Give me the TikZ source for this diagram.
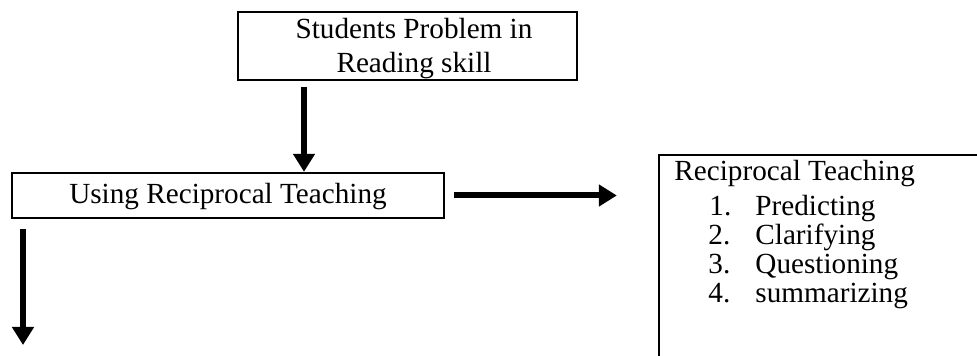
\documentclass[tikz,border=0pt]{standalone}
\usepackage{fontspec}
\setmainfont{Liberation Serif}
\usetikzlibrary{arrows.meta}
\tikzset{
  box/.style={draw=black, line width=1.15pt, inner sep=0pt, fill=none},
  txt/.style={inner sep=0pt, font=\fontsize{14.6}{17}\selectfont},
  bigarrow/.style={line width=3pt, -{Triangle[length=9pt,width=10.5pt]}},
}
\begin{document}
\begin{tikzpicture}[x=0.5pt,y=-0.5pt]
\useasboundingbox (0,0) rectangle (977,356);
\clip (0,0) rectangle (977,356);
\fill[white] (0,0) rectangle (977,356);
% boxes
\node[box, minimum width=169.5pt, minimum height=34pt] (top) at (407.5,46) {};
\node[box, minimum width=216pt, minimum height=22.5pt] (mid) at (228,195.5) {};
\node[box, minimum width=170.5pt, minimum height=112.5pt] (rb) at (829.5,267.5) {};
% texts
\node[txt, anchor=base] (t1) at (414,39) {Students Problem in};
\node[txt, anchor=base] (t2) at (414,73) {Reading skill};
\node[txt, anchor=base] (m1) at (228,204) {Using Reciprocal Teaching};
\node[txt, anchor=base west] (r0) at (674,181) {Reciprocal Teaching};
\node[txt, anchor=base west] (n1) at (709,216) {1.};
\node[txt, anchor=base west] (n2) at (708,245) {2.};
\node[txt, anchor=base west] (n3) at (708,274) {3.};
\node[txt, anchor=base west] (n4) at (708,303) {4.};
\node[txt, anchor=base west] (i1) at (755,216) {Predicting};
\node[txt, anchor=base west] (i2) at (755,245) {Clarifying};
\node[txt, anchor=base west] (i3) at (755,274) {Questioning};
\node[txt, anchor=base west] (i4) at (755,303) {summarizing};
% connectors
\coordinate (ax) at (304,0);
\coordinate (dx) at (23,0);
\coordinate (dend) at (23,345);
\draw[bigarrow, shorten <=3pt] (top.south -| ax) -- (mid.north -| ax);
\draw[bigarrow, shorten <=4.5pt, shorten >=20.5pt] (mid.east) -- (mid.east -| rb.west);
\draw[bigarrow, shorten <=5pt] (mid.south -| dx) -- (dend);
\end{tikzpicture}
\end{document}
